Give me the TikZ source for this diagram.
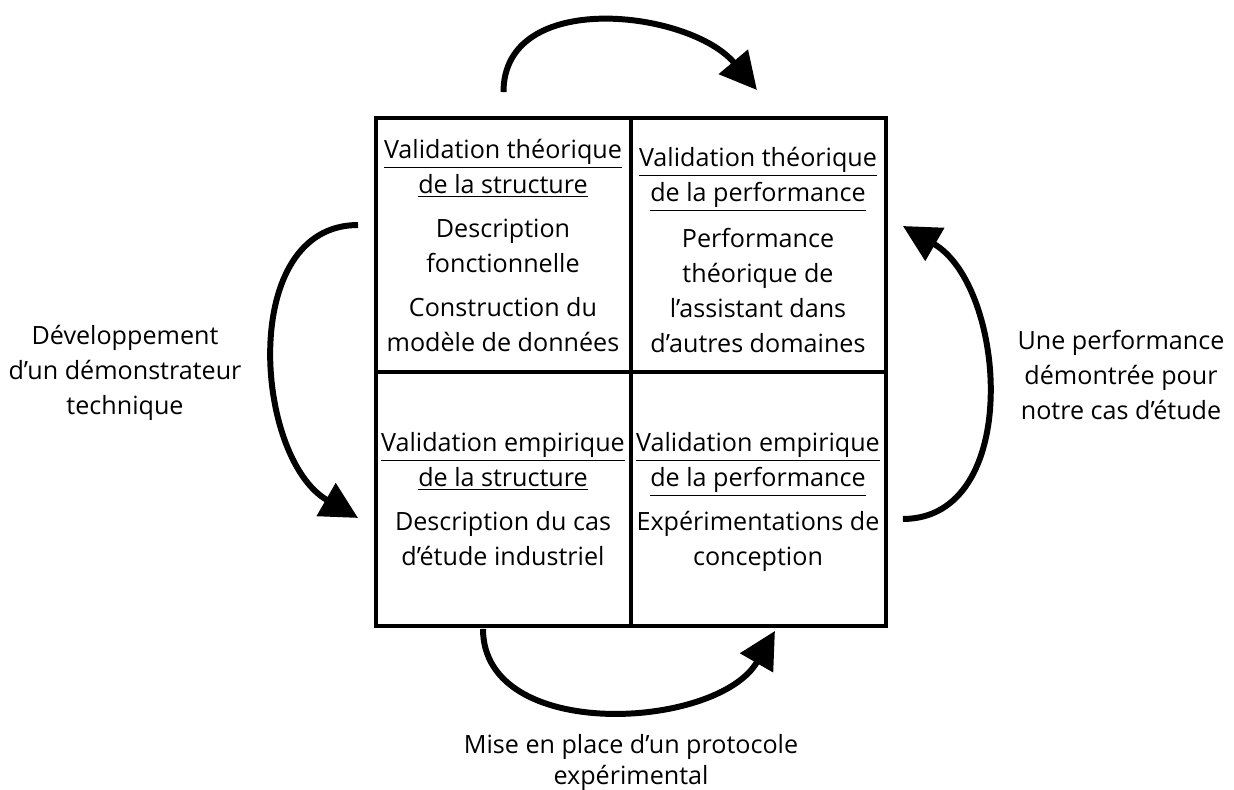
\documentclass[tikz,border=0pt]{standalone}
\usepackage{fontspec}
\setmainfont{Open Sans}
\usetikzlibrary{arrows.meta,positioning}
\tikzset{
    cell/.style={draw, line width=2.3pt, minimum width=5.1cm, minimum height=5.08cm, inner sep=0mm, outer sep=0mm},
    txt/.style={align=center, anchor=north, inner sep=0mm, font=\fontsize{14.3}{19.9}\selectfont},
    cycle/.style={line width=3.4pt, -{Triangle[length=21pt,width=21pt]}},
    node distance=0pt
}

\begin{document}
\begin{tikzpicture}[x=0.02cm,y=-0.02cm]
			\fill[white] (0,0) rectangle (1234,789);
			\useasboundingbox (0,0) rectangle (1234,789);

			\node[cell] (tl) at (503.5,245) {};
			\node[cell, right=of tl] (tr) {};
			\node[cell, below=of tl] (bl) {};
			\node[cell, right=of bl] (br) {};

			\node[txt] (tlt) at (503,139) {\underline{Validation théorique}\\\underline{de la structure}\\[0.18cm]Description\\fonctionnelle\\[0.18cm]Construction du\\modèle de données};
			\node[txt] (trt) at (758,147) {\underline{Validation théorique}\\\underline{de la performance}\\[0.22cm]Performance\\théorique de\\l’assistant dans\\d’autres domaines};
			\node[txt] (blt) at (503,432) {\underline{Validation empirique}\\\underline{de la structure}\\[0.18cm]Description du cas\\d’étude industriel};
			\node[txt] (brt) at (758,432) {\underline{Validation empirique}\\\underline{de la performance}\\[0.18cm]Expérimentations de\\conception};

			\node[txt] (lefttxt) at (125,325) {Développement\\d’un démonstrateur\\technique};
			\node[txt] (righttxt) at (1121,330) {Une performance\\démontrée pour\\notre cas d’étude};
			\node[txt, font=\fontsize{14.3}{17.6}\selectfont] (bottxt) at (631,734) {Mise en place d’un protocole\\expérimental};

			\coordinate (s1) at ([yshift=0.52cm]tl.north);
			\coordinate (e1) at ([yshift=0.56cm, xshift=-0.03cm]tr.north);
			\coordinate (s2) at ([xshift=-0.36cm, yshift=0.4cm]tl.west);
			\coordinate (e2) at ([xshift=-0.36cm, yshift=-0.38cm]bl.west);
			\coordinate (s3) at ([xshift=0.34cm, yshift=-0.4cm]br.east);
			\coordinate (e3) at ([xshift=0.34cm, yshift=0.38cm]tr.east);
			\coordinate (s4) at ([xshift=-0.41cm, yshift=-0.06cm]bl.south);
			\coordinate (e4) at ([xshift=0.33cm, yshift=-0.1cm]br.south);

			\draw[cycle] (s1) to[out=90, in=130, looseness=1.05] (e1);
			\draw[cycle] (s2) to[out=180, in=150, looseness=1.05] (e2);
			\draw[cycle] (s3) to[out=0, in=-30, looseness=1.05] (e3);
			\draw[cycle] (s4) to[out=-90, in=-120] (e4);
		\end{tikzpicture}
\end{document}
